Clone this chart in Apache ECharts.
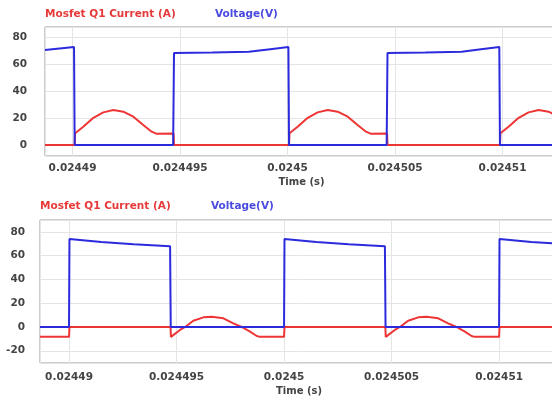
<!DOCTYPE html>
<html>
<head>
<meta charset="utf-8">
<script src="https://cdn.jsdelivr.net/npm/echarts@6/dist/echarts.min.js"></script>
<style>
html, body { margin: 0; padding: 0; background: #fff; }
#chart { width: 552px; height: 396px; }
</style>
</head>
<body>
<div id="chart"></div>
<script>
// time in microseconds (axis label shows seconds)
// upper plot
const topVoltTime = [24488.72, 24490.07, 24490.10, 24494.68, 24494.72, 24496.5, 24498.2, 24499.2, 24500.04, 24500.07,
    24504.61, 24504.65, 24506.4, 24508.1, 24509.0, 24509.85, 24509.88, 24512.6]
const topVolt = [70.3, 72.6, 0, 0, 68.2, 68.6, 69.1, 71.0, 72.6, 0,
    0, 68.2, 68.6, 69.1, 71.0, 72.6, 0, 0]
const topCurTime = [24488.72, 24490.10, 24490.12, 24490.50, 24490.97, 24491.43, 24491.90, 24492.36, 24492.83, 24493.29, 24493.68, 24493.92, 24494.70, 24494.72,
    24500.07, 24500.09, 24500.47, 24500.94, 24501.40, 24501.87, 24502.33, 24502.80, 24503.26, 24503.65, 24503.89, 24504.63, 24504.65,
    24509.88, 24509.90, 24510.28, 24510.75, 24511.21, 24511.68, 24512.14, 24512.61]
const topCur = [0, 0, 8.7, 13.6, 20.2, 24.2, 25.9, 24.7, 21.0, 14.8, 9.9, 8.3, 8.6, 0,
    0, 8.7, 13.6, 20.2, 24.2, 25.9, 24.7, 21.0, 14.8, 9.9, 8.3, 8.6, 0,
    0, 8.7, 13.6, 20.2, 24.2, 25.9, 24.7, 21.0]
// lower plot
const botVoltTime = [24488.65, 24490.00, 24490.02, 24491.5, 24493.0, 24494.70, 24494.73,
    24500.00, 24500.02, 24501.5, 24503.0, 24504.69, 24504.72,
    24510.00, 24510.02, 24511.5, 24512.75]
const botVolt = [0, 0, 74, 71.5, 69.5, 68, 0,
    0, 74, 71.5, 69.5, 68, 0,
    0, 74, 71.5, 70.1]
const botCurTime = [24488.65, 24490.00, 24490.02, 24494.72, 24494.74, 24495.16, 24495.40, 24495.78, 24496.25, 24496.64, 24497.18, 24497.64, 24498.03, 24498.42, 24498.73, 24498.88,
    24500.00, 24500.02, 24504.71, 24504.73, 24505.15, 24505.39, 24505.77, 24506.24, 24506.63, 24507.17, 24507.63, 24508.02, 24508.41, 24508.72, 24508.87,
    24510.00, 24510.02, 24512.75]
const botCur = [-8.3, -8.3, 0, 0, -8.3, -2.5, 0, 5.3, 8.1, 8.7, 7.3, 3.1, 0, -3.9, -7.6, -8.3,
    -8.3, 0, 0, -8.3, -2.5, 0, 5.3, 8.1, 8.7, 7.3, 3.1, 0, -3.9, -7.6, -8.3,
    -8.3, 0, 0]

const red = '#ee3535'
const blue = '#2b2bdd'
const font = 'DejaVu Sans'

function zip(t, v) {
    return t.map((x, i) => [x, v[i]])
}

const chart = echarts.init(document.getElementById('chart'))

const labelStyle = { color: '#444', fontFamily: font, fontSize: 10.5, fontWeight: 'bold' }
const gridLine = { show: true, lineStyle: { color: '#e4e4e4', width: 1 } }

function xAxis(idx, min, max, margin, gap) {
    return {
        type: 'value', gridIndex: idx, min: min, max: max,
        minInterval: 5, maxInterval: 5,
        name: 'Time (s)', nameLocation: 'middle', nameGap: gap,
        nameTextStyle: { color: '#444', fontFamily: font, fontSize: 10, fontWeight: 'bold' },
        axisLine: { show: false }, axisTick: { show: false },
        splitLine: gridLine,
        axisLabel: Object.assign({
            margin: margin, showMinLabel: false, showMaxLabel: false,
            formatter: v => (v / 1e6).toFixed(6).replace(/0+$/, '')
        }, labelStyle)
    }
}
function yAxis(idx, min, max, margin) {
    return {
        type: 'value', gridIndex: idx, min: min, max: max,
        minInterval: 20, maxInterval: 20,
        axisLine: { show: false }, axisTick: { show: false },
        splitLine: gridLine,
        axisLabel: Object.assign({ margin: margin, showMinLabel: false, showMaxLabel: false }, labelStyle)
    }
}
function line(name, data, color, idx) {
    return {
        name: name, type: 'line', xAxisIndex: idx, yAxisIndex: idx,
        data: data, symbol: 'none', smooth: false,
        lineStyle: { color: color, width: 2 }, itemStyle: { color: color }
    }
}
function head(text, color, left, top) {
    return { text: text, left: left, top: top, padding: 0,
        textStyle: { color: color, fontFamily: font, fontSize: 10.5, fontWeight: 'bold' } }
}

const option = {
    animation: false,
    backgroundColor: '#fff',
    title: [
        head('Mosfet Q1 Current (A)', '#e63a3a', 45, 9),
        head('Voltage(V)', '#4a4ae0', 215, 9),
        head('Mosfet Q1 Current (A)', '#e63a3a', 40, 201),
        head('Voltage(V)', '#4a4ae0', 211, 201)
    ],
    grid: [
        { left: 45, top: 27, width: 513, height: 129, outerBoundsMode: 'none', containLabel: false,
            show: true, borderColor: '#9a9a9a', borderWidth: 1 },
        { left: 40, top: 220, width: 518, height: 143, outerBoundsMode: 'none', containLabel: false,
            show: true, borderColor: '#9a9a9a', borderWidth: 1 }
    ],
    xAxis: [
        xAxis(0, 24488.72, 24512.58, 7, 21),
        xAxis(1, 24488.65, 24512.74, 9, 23)
    ],
    yAxis: [
        yAxis(0, -8.1, 87.4, 18),
        yAxis(1, -30.3, 90, 15)
    ],
    series: [
        line('Mosfet Q1 Current (A)', zip(topCurTime, topCur), red, 0),
        line('Voltage(V)', zip(topVoltTime, topVolt), blue, 0),
        line('Mosfet Q1 Current (A)', zip(botCurTime, botCur), red, 1),
        line('Voltage(V)', zip(botVoltTime, botVolt), blue, 1)
    ]
}
chart.setOption(option)
</script>
</body>
</html>
